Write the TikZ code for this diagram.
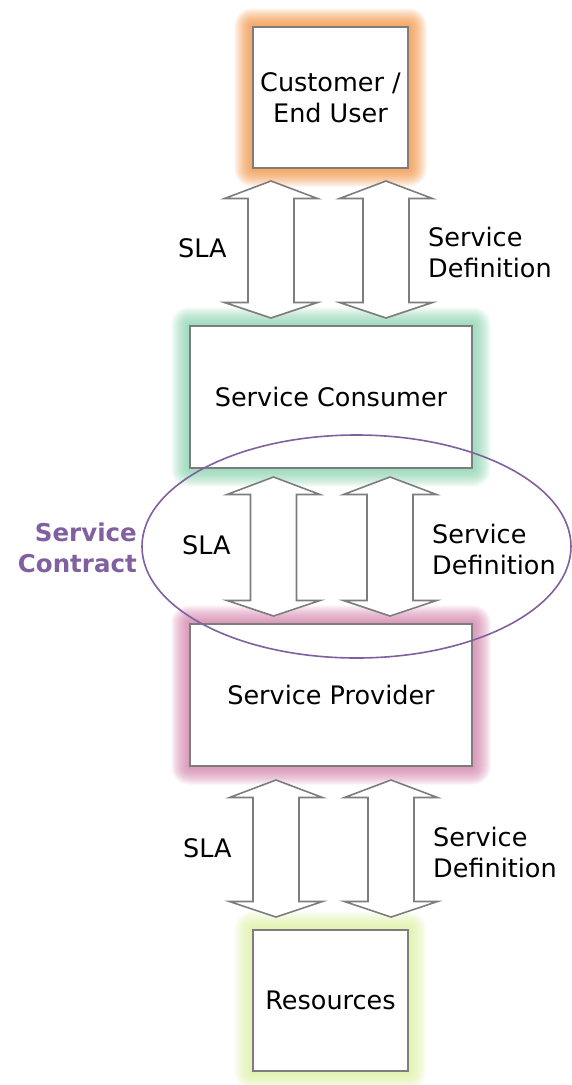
\documentclass[tikz,border=0pt]{standalone}
\usepackage{fontspec}
\setmainfont{DejaVu Sans}
\usetikzlibrary{shapes.geometric,backgrounds}

\definecolor{glowOrange}{RGB}{240,135,45}
\definecolor{glowGreen}{RGB}{125,205,165}
\definecolor{glowPink}{RGB}{205,115,160}
\definecolor{glowLime}{RGB}{215,238,150}
\definecolor{contractPurple}{RGB}{128,96,160}
\definecolor{edgeGray}{RGB}{125,125,125}

\begin{document}
\begin{tikzpicture}[x=1pt,y=-1pt,
  every node/.style={font=\fontsize{25.5}{31}\selectfont},
  box/.style={draw=edgeGray,line width=1.5pt,fill=white,inner sep=0pt,align=center},
  smallbox/.style={box,minimum width=155pt,minimum height=141pt},
  widebox/.style={box,minimum width=282pt,minimum height=142pt},
  arrowbox/.style={draw=edgeGray,line width=1.6pt,fill=white},
  lbl/.style={inner sep=0pt,align=left},
  pics/updown/.style={code={
    \draw[arrowbox] (0,0) -- (46.5,17.5) -- (23,17.5) -- (23,#1-15.5) -- (46.5,#1-15.5)
      -- (0,#1) -- (-46.5,#1-15.5) -- (-23,#1-15.5) -- (-23,17.5) -- (-46.5,17.5) -- cycle;
  }}]
\useasboundingbox (0,0) rectangle (571,1085);

% the four layers
\node[smallbox] (user) at (330.5,97.5) {Customer /\\End User};
\node[widebox] (consumer) at (331,397) {Service Consumer};
\node[widebox] (provider) at (331,695) {Service Provider};
\node[smallbox] (res) at (330.5,1000.5) {Resources};

% soft coloured halo round each box
\begin{scope}[on background layer]
\foreach \b/\c in {user/glowOrange,consumer/glowGreen,provider/glowPink,res/glowLime}
  \foreach \g in {1,...,18}
    \fill[\c,opacity=0.065,rounded corners=\g pt]
      ([shift={(-\g,\g)}]\b.south west) rectangle ([shift={(\g,-\g)}]\b.north east);
\end{scope}

% double arrows between the layers
\pic at (271,181) {updown=137};
\pic at (386,181) {updown=137};
\pic at (273.5,477) {updown=139};
\pic at (390,477) {updown=139};
\pic at (276,780) {updown=137};
\pic at (391,780) {updown=137};

\node[lbl,anchor=base west] (sla1) at (178,257) {SLA};
\node[lbl,anchor=west] (def1) at (428,252) {Service\\Definition};
\node[lbl,anchor=base west] (sla2) at (182,554) {SLA};
\node[lbl,anchor=west] (def2) at (432,549) {Service\\Definition};
\node[lbl,anchor=base west] (sla3) at (183,857) {SLA};
\node[lbl,anchor=west] (def3) at (433,852) {Service\\Definition};

% contract between consumer and provider
\node[draw=contractPurple,line width=1.6pt,ellipse,inner sep=0pt,
  minimum width=429pt,minimum height=223pt] (contract) at (356.5,546.5) {};
\node[lbl,align=right,anchor=east,text=contractPurple,
  font=\fontsize{24.5}{31}\selectfont\bfseries] (contractlbl) at (137,548) {Service\\Contract};
\end{tikzpicture}
\end{document}
